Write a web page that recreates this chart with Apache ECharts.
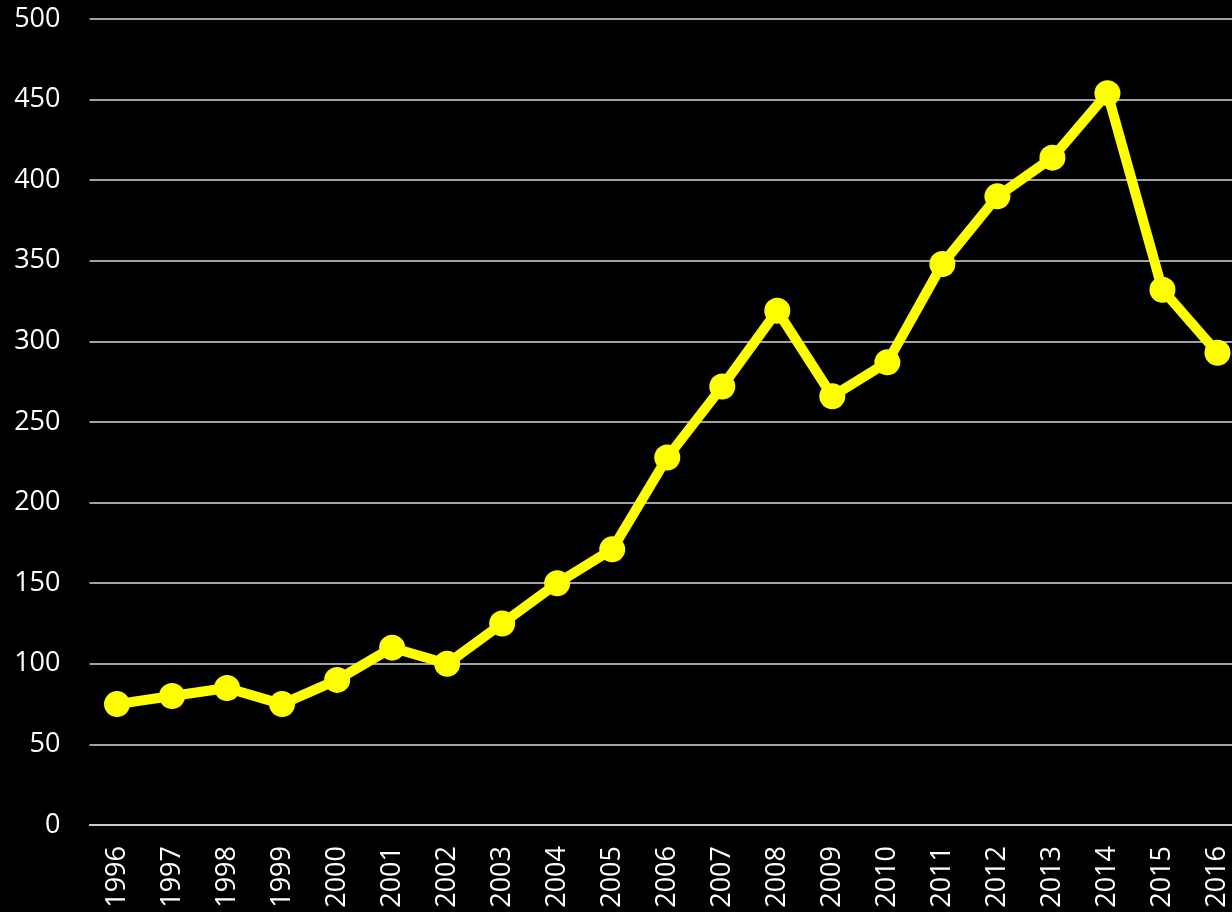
<!DOCTYPE html>
<html>
<head>
<meta charset="utf-8">
<script src="https://cdn.jsdelivr.net/npm/echarts@6/dist/echarts.min.js"></script>
<style>
  html, body { margin: 0; padding: 0; background: #000; overflow: hidden; }
  /* chart is a bit wider than the window: the last band runs off the right edge */
  #chart { width: 1245px; height: 912px; }
</style>
</head>
<body>
<div id="chart"></div>
<script>
// years on the x axis
const years = ['1996', '1997', '1998', '1999', '2000', '2001', '2002', '2003', '2004', '2005', '2006',
  '2007', '2008', '2009', '2010', '2011', '2012', '2013', '2014', '2015', '2016']
// values
const values = [75, 80, 85, 75, 90, 110, 100, 125, 150, 171, 228,
  272, 319, 266, 287, 348, 390, 414, 454, 332, 293]
// y axis range
const yMin = 0
const yMax = 500
const yStep = 50

const chart = echarts.init(document.getElementById('chart'))
const font = '"Open Sans", "Noto Sans", sans-serif'

chart.setOption({
  backgroundColor: '#000',
  animation: false,
  grid: {
    left: 89.5,
    right: 0,
    top: 19,
    bottom: 87,
    containLabel: false
  },
  xAxis: {
    type: 'category',
    data: years,
    boundaryGap: true,
    axisLine: { show: true, lineStyle: { color: '#d9d9d9', width: 1.5 } },
    axisTick: { show: false },
    axisLabel: {
      rotate: 90,
      margin: 21,
      color: '#fff',
      fontFamily: font,
      fontSize: 27
    }
  },
  yAxis: {
    type: 'value',
    min: yMin,
    max: yMax,
    interval: yStep,
    axisLine: { show: false },
    axisTick: { show: false },
    axisLabel: {
      margin: 29,
      color: '#fff',
      fontFamily: font,
      fontSize: 27
    },
    splitLine: { lineStyle: { color: '#d9d9d9', width: 1.5 } }
  },
  series: [
    {
      type: 'line',
      data: values,
      symbol: 'circle',
      symbolSize: 26,
      lineStyle: { color: '#ffff00', width: 10 },
      itemStyle: { color: '#ffff00' }
    }
  ]
})
</script>
</body>
</html>
